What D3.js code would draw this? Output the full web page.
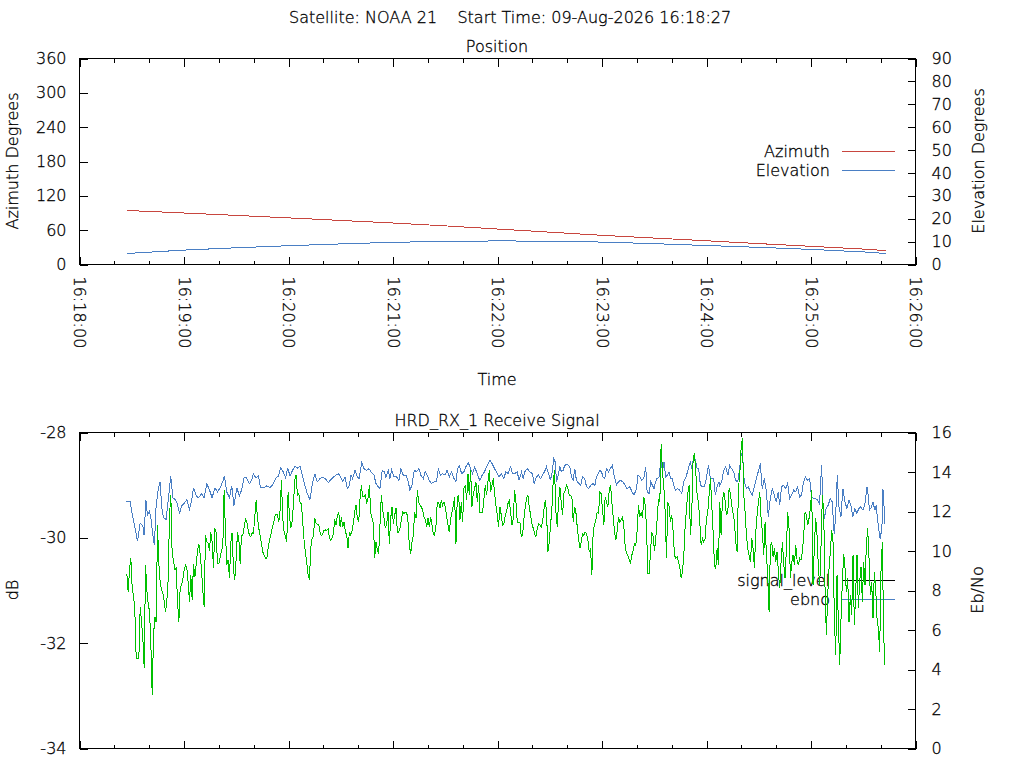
<!DOCTYPE html>
<html>
<head>
<meta charset="utf-8">
<script src="https://cdn.jsdelivr.net/npm/d3@7"></script>
<style>
  body { margin: 0; background: #fff; }
  svg { font-family: "DejaVu Sans", sans-serif; font-size: 16px; font-weight: 200; }
  text { fill: #000; stroke: #000; stroke-width: 0.3px; }
</style>
</head>
<body>
<div id="chart"></div>
<script>
// pass data, seconds counted from 16:18:00
var posSeconds   = [27, 60, 90, 120, 150, 180, 210, 240, 270, 300, 330, 360, 390, 420, 450, 463];
var azimuthDeg   = [94.5, 90.0, 85.8, 81.5, 77.0, 72.5, 67.5, 62.0, 56.5, 51.0, 46.2, 41.5, 36.5, 31.8, 27.0, 24.3];
var elevationDeg = [4.8, 6.3, 7.3, 8.2, 9.0, 9.7, 10.1, 10.3, 10.2, 9.8, 9.1, 8.3, 7.5, 6.6, 5.5, 4.8];

// receive signal level (dB), evenly sampled
var signalStart = 27.2;   // seconds after 16:18:00
var signalStep = 0.765;   // seconds between samples
var signalLevel = [
  -30.68,-31.03,-30.58,-30.39,-30.96,-31.09,-31.41,-32.29,-32.29,-32.29,
  -31.31,-31.6,-31.91,-32.48,-30.52,-31.0,-31.25,-31.4,-32.0,-32.99,
  -31.85,-31.5,-31.6,-29.76,-30.5,-30.84,-30.99,-31.05,-31.2,-31.4,
  -31.2,-30.8,-29.57,-29.19,-30.33,-30.42,-30.6,-30.58,-31.2,-31.6,
  -30.95,-30.9,-30.8,-30.6,-30.52,-30.58,-30.85,-31.22,-30.71,-31.18,
  -30.49,-30.75,-30.5,-30.25,-30.11,-30.3,-30.6,-31.0,-31.31,-29.95,
  -30.08,-30.1,-30.24,-29.89,-30.08,-30.58,-29.82,-29.89,-30.49,-30.49,
  -30.38,-30.25,-30.17,-29.1,-29.9,-30.52,-30.42,-30.77,-30.1,-29.9,
  -30.6,-30.8,-30.4,-29.9,-30.0,-30.49,-29.95,-29.95,-29.8,-29.65,
  -29.7,-29.85,-29.95,-29.98,-29.9,-29.92,-29.6,-29.29,-29.6,-29.82,
  -29.95,-30.1,-30.27,-30.33,-30.39,-30.39,-30.2,-30.05,-29.95,-29.83,
  -29.73,-29.6,-29.55,-29.55,-29.7,-29.48,-28.91,-29.63,-29.89,-29.98,
  -30.08,-29.13,-29.57,-29.82,-29.7,-29.38,-28.91,-28.81,-29.19,-29.16,
  -29.32,-29.36,-29.7,-30.05,-30.28,-30.46,-30.7,-30.8,-30.2,-30.01,
  -29.98,-29.63,-29.72,-29.75,-29.75,
  -29.89,-29.96,-29.93,-29.86,-29.85,-29.86,-29.83,-30.0,-30.05,-30.0,
  -29.92,-29.65,-29.76,-29.57,-29.51,-29.79,-29.6,-29.79,-29.7,-29.89,
  -29.95,-30.2,-29.89,-29.95,-29.86,-29.73,-29.51,-29.38,-29.63,-29.7,
  -29.25,-29.0,-29.22,-29.22,-29.19,-29.35,-29.25,-29.0,-29.51,-29.63,
  -29.73,-30.39,-30.08,-30.24,-30.3,-29.73,-29.19,-29.47,-29.63,-29.82,
  -29.73,-29.51,-30.11,-29.63,-29.41,-29.73,-29.57,-29.44,-29.89,-29.89,
  -29.82,-29.66,-29.51,-29.54,-29.51,-29.51,-29.7,-30.14,-30.3,-30.08,
  -29.95,-29.51,-29.63,-29.1,-29.32,-29.38,-29.41,-29.47,-29.6,-29.66,
  -29.79,-29.63,-29.79,-29.6,-29.76,-29.92,-29.95,-29.76,-29.32,-29.32,
  -29.44,-29.29,-29.38,-29.32,-29.41,-29.6,-29.76,-29.89,-29.63,-29.51,
  -29.38,-29.22,-30.11,-29.22,-29.19,-29.66,-29.32,-29.7,-29.06,-29.0,
  -29.29,-28.78,-29.19,-28.72,-29.41,-29.16,-29.06,-28.94,-29.32,-29.0,
  -29.51,-29.51,-29.51,-29.25,-29.0,-29.19,-28.94,-28.72,-29.13,-29.0,
  -28.87,-29.16,-29.38,-29.57,-29.79,-29.41,-29.57,-29.76,-29.73,-29.57,
  -29.51,-29.35,-29.29,-29.51,-29.76,-29.63,-29.1,-29.32,-29.7,-29.7,
  -29.7,-29.98,-29.95,-29.63,-29.41,-29.25,-29.19,-29.41,-29.57,-29.73,
  -29.82,-29.92,-29.98,-29.82,-29.73,-29.76,-29.79,-29.7,-29.47,-29.28,
  -29.51,-30.27,-30.08,-29.76,-29.44,-28.91,-28.72,-29.51,-29.79,-29.32,
  -29.03,-29.32,-29.57,-29.16,-29.1,-29.0,-29.06,-29.19,-29.19,-29.22,
  -29.7,-29.41,-29.51,-29.79,-30.01,-30.2,-30.08,-29.92,-29.95,-29.89,
  -29.92,-30.04,-30.27,-30.2,-30.71,-29.86,-29.76,-29.66,-29.51,-29.54,
  -29.13,-29.16,-29.47,-29.76,-29.22,-29.32,-29.41,-29.1,-29.0,-29.32,
  -29.6,-29.89,-30.04,-29.86,-29.6,-29.7,-29.66,-29.6,-29.79,-30.17,
  -30.3,-30.33,-30.42,-30.49,-30.33,-30.24,-30.11,-30.14,-29.86,-29.38,
  -29.6,-29.51,-29.63,-29.22,-29.38,-29.79,-30.68,-30.68,-30.27,-29.89,
  -29.98,-30.24,-30.01,-29.63,-29.28,-29.32,-28.21,-28.75,-29.03,-29.51,
  -30.39,-29.32,-29.41,-29.7,-29.57,-29.89,-30.33,-30.39,-30.36,-30.46,
  -30.55,-30.77,-30.65,-30.33,-29.79,-29.44,-29.16,-29.0,-29.95,-29.51,
  -28.49,-28.4,-28.75,-29.19,-29.32,-29.7,-30.14,-30.01,-30.08,-30.01,
  -29.63,-29.51,-29.19,-28.87,-29.38,-29.89,-30.52,-30.58,-30.2,-30.52,
  -29.32,-29.95,-29.29,-29.13,-29.29,-29.57,-29.51,-29.06,-29.16,-29.38,
  -29.54,-29.7,-30.08,-30.27,-29.06,-28.81,-28.3,-28.1,-29.19,-29.51,
  -29.95,-30.2,-30.33,-30.46,-30.01,-30.2,-30.58,-29.89,-29.57,-29.32,
  -29.13,-29.63,-29.89,-30.33,-29.7,-30.33,-30.71,-31.41,-30.14,-30.08,
  -30.36,-30.2,-30.46,-30.27,-30.65,-30.96,-30.46,-30.08,-30.49,-30.77,
  -30.2,-29.51,-29.82,-30.77,-30.46,-30.33,-30.52,-30.14,-30.42,-30.52,
  -30.39,-30.42,-30.27,-29.95,-29.51,-29.57,-29.76,-29.63,-29.44,-29.1,
  -30.9,-30.14,-29.63,-29.95,-30.58,-30.9,-30.14,-29.19,-29.51,-30.96,
  -31.85,-31.09,-30.58,-30.27,-29.86,-30.08,-31.53,-32.23,-30.71,-31.6,
  -32.42,-31.53,-30.84,-30.3,-30.58,-31.03,-30.77,-31.6,-31.09,-31.47,
  -30.33,-31.66,-31.03,-30.33,-31.34,-30.84,-30.55,-31.22,-30.46,-30.9,
  -30.14,-29.82,-30.39,-31.09,-30.84,-31.53,-30.65,-30.96,-31.53,-31.72,
  -32.16,-30.65,-30.08,-31.85,-32.42
];

// Eb/No samples: [seconds after 16:18:00, value]
var ebnoSamples = [
  [26.8,12.5],[29.1,12.5],[30.0,12.0],[32.0,11.1],[33.3,10.5],[34.8,11.4],[36.3,11.3],[37.1,10.8],[38.1,12.6],[39.0,11.8],
  [40.2,12.0],[41.1,11.6],[42.1,10.8],[43.0,10.3],[44.0,12.3],[45.3,13.2],[46.3,13.5],[47.2,12.2],[48.2,11.7],[49.7,11.6],
  [51.1,12.7],[52.4,13.8],[53.6,12.7],[54.9,12.6],[56.2,12.4],[57.4,11.9],[58.7,12.3],[60.1,12.4],[61.6,12.6],[63.1,12.1],
  [64.3,12.5],[65.4,13.2],[67.0,12.8],[68.3,12.7],[70.2,12.9],[71.5,12.7],[73.1,13.4],[74.6,13.1],[76.1,12.7],[77.8,13.2],
  [79.2,13.0],[80.7,13.2],[82.2,13.5],[83.2,13.8],[84.5,13.0],[86.1,12.7],[87.4,13.3],[88.7,12.3],[90.3,13.2],[91.8,12.8],
  [93.1,13.1],[94.5,13.7],[96.0,13.7],[97.5,13.4],[98.9,13.6],[99.8,13.9],[101.4,13.7],[102.7,13.8],[104.0,13.2],[106.0,13.2],
  [107.5,13.3],[109.4,13.2],[111.3,13.4],[112.8,13.7],[114.2,13.8],[115.5,14.2],[117.0,14.0],[118.4,13.7],[119.5,14.2],[120.9,13.8],
  [122.4,14.1],[123.7,14.3],[125.1,14.2],[126.6,14.3],[128.1,13.8],[129.5,13.3],[130.8,12.9],[132.3,12.6],[133.9,13.5],[135.2,13.9],
  [136.5,13.5],[138.1,13.67],[139.6,13.72],[141.0,13.67],[142.9,13.47],[144.8,13.67],[146.7,13.8],[148.6,13.92],[149.9,13.75],[151.1,13.53],
  [152.4,13.75],[153.8,13.16],[154.9,13.33],[155.9,13.84],[156.8,13.67],[158.2,14.09],[159.5,13.75],[160.6,13.67],[162.0,14.48],[163.3,14.17],
  [164.9,14.09],[166.2,14.17],[167.7,13.97],[169.1,13.84],[170.2,13.42],[171.5,13.25],[172.5,13.16],[173.8,14.09],[175.0,14.01],[175.9,13.75],
  [177.3,14.09],[178.2,13.67],[179.2,14.09],[180.5,13.75],[182.1,13.75],[183.4,13.58],[184.5,14.17],[185.9,13.84],[187.4,13.84],[188.8,13.5],
  [189.7,13.08],[190.9,13.33],[192.2,14.09],[193.5,14.01],[194.9,14.17],[196.0,13.84],[197.4,13.67],[198.5,14.01],[199.7,13.84],[200.8,13.58],
  [202.1,13.42],[203.5,13.5],[205.0,13.5],[206.0,14.17],[207.3,13.84],[208.5,13.92],[209.8,13.84],[211.1,14.09],[212.3,13.75],[213.6,14.01],
  [215.0,13.67],[216.1,13.5],[217.1,14.17],[218.0,14.34],[219.4,13.92],[220.7,14.01],[221.8,14.26],[223.2,14.48],[224.5,14.17],[225.7,13.92],
  [226.8,14.26],[228.0,14.01],[228.9,13.75],[229.9,13.58],[231.2,13.84],[232.5,14.01],[234.1,14.34],[235.6,14.6],[236.9,14.43],[238.3,14.17],
  [239.4,14.01],[240.8,13.75],[242.3,13.92],[243.6,13.67],[244.8,14.01],[246.1,13.92],[247.5,14.26],[248.6,13.92],[249.9,13.92],[251.3,14.01],
  [252.4,13.58],[253.8,14.01],[254.7,13.67],[255.7,14.01],[257.0,14.17],[258.6,14.01],[260.1,13.92],[261.0,13.42],[262.4,13.75],[263.5,13.84],
  [264.7,13.67],[265.8,13.84],[267.0,14.01],[268.1,14.26],[269.3,13.92],[270.4,13.58],[271.4,14.01],[272.3,14.68],[273.1,14.51],[273.9,13.5],
  [274.8,13.84],[275.8,14.26],[276.7,14.01],[277.7,14.09],[278.6,14.34],[280.0,14.38],[281.5,14.26],[282.5,13.75],[283.4,13.58],[284.4,14.17],
  [285.3,13.58],[286.7,13.42],[287.8,13.33],[288.8,13.75],[290.1,13.67],[291.1,13.25],[292.4,13.16],[293.6,13.33],[294.9,13.42],[295.9,13.33],
  [296.8,13.75],[297.8,13.92],[298.7,14.09],[299.7,14.01],[300.6,13.75],[301.6,13.67],[302.5,14.17],[303.7,14.01],[304.8,14.17],[306.0,14.34],
  [306.9,13.84],[308.3,13.33],[309.4,13.5],[310.6,13.58],[312.1,13.5],[313.2,13.33],[314.4,13.16],[315.9,13.25],[317.3,12.99],[318.4,12.83],
  [319.8,13.16],[320.7,13.84],[321.7,13.75],[322.8,13.58],[324.0,13.67],[325.1,14.26],[325.9,12.99],[327.0,12.91],[328.0,13.5],[328.9,13.33],
  [329.9,13.16],[330.7,13.5],[331.6,13.67],[332.8,13.75],[333.9,14.68],[334.7,14.01],[335.6,14.51],[336.6,13.75],[337.5,13.84],[338.5,14.01],
  [339.4,13.67],[340.4,13.67],[341.4,13.25],[342.3,13.08],[343.5,13.16],[344.6,13.08],[345.8,12.91],[346.9,13.5],[347.9,13.67],[348.8,13.92],
  [349.8,14.26],[350.7,14.51],[351.7,14.17],[352.6,14.77],[353.6,14.6],[354.6,14.17],[355.5,14.17],[356.5,13.33],[357.6,13.25],[358.8,13.25],
  [359.9,13.67],[361.1,14.34],[362.2,13.67],[363.2,13.67],[364.1,13.67],[365.1,12.83],[366.2,13.33],[367.2,13.5],[367.6,13.33],[368.7,13.5],
  [369.9,14.09],[371.0,14.26],[372.3,13.84],[373.3,14.34],[374.4,14.17],[375.6,14.01],[376.7,13.58],[377.9,13.5],[379.0,14.17],[380.0,14.94],
  [380.9,14.6],[381.7,13.5],[382.9,13.16],[384.0,13.25],[385.2,12.99],[386.3,12.83],[387.4,13.25],[388.6,13.67],[389.7,14.01],[390.9,14.43],
  [392.0,13.16],[393.2,13.67],[394.3,13.08],[395.5,11.73],[396.6,12.66],[397.8,13.16],[398.9,12.83],[400.1,12.49],[401.2,12.99],[402.0,12.32],
  [403.1,13.25],[404.3,13.33],[405.4,13.16],[406.6,13.42],[407.7,12.66],[408.9,12.83],[410.0,13.08],[411.2,12.99],[412.3,13.25],[413.5,12.74],
  [414.6,12.83],[415.7,13.5],[416.9,13.75],[418.0,13.58],[419.2,13.67],[420.3,12.74],[421.5,12.66],[422.6,12.66],[423.8,12.57],[424.9,12.4],
  [426.1,14.34],[426.8,12.49],[427.6,11.64],[428.7,12.15],[429.9,12.32],[431.0,12.66],[432.2,12.49],[433.3,10.88],[434.1,11.64],[435.1,13.84],
  [436.0,12.24],[437.2,11.73],[438.3,13.16],[439.5,12.49],[440.6,12.15],[441.8,12.57],[442.9,12.32],[444.0,11.73],[445.2,12.15],[446.3,11.9],
  [447.5,12.15],[448.6,12.24],[449.8,12.07],[450.9,12.32],[452.1,13.25],[452.8,12.83],[453.6,12.07],[454.8,12.24],[455.5,12.49],[456.7,12.07],
  [457.4,12.32],[458.6,11.31],[459.7,10.63],[460.7,11.14],[461.3,13.16],[461.8,12.49],[462.4,11.39]
];

var azTicks = [0, 60, 120, 180, 240, 300, 360];
var elTicks = [0, 10, 20, 30, 40, 50, 60, 70, 80, 90];
var dbTicks = [-34, -32, -30, -28];
var ebTicks = [0, 2, 4, 6, 8, 10, 12, 14, 16];

var mainTitle = "Satellite: NOAA 21    Start Time: 09-Aug-2026 16:18:27";

var W = 1024, H = 768;
var left = 79.5, right = 915.5;
var top1 = 58.5, bot1 = 264.5;
var top2 = 432.5, bot2 = 748.5;

var t0 = new Date(2026, 7, 9, 16, 18, 0);
function at(s) { return new Date(t0.getTime() + s * 1000); }

var svg = d3.select("#chart").append("svg")
    .attr("width", W)
    .attr("height", H);

var x = d3.scaleTime()
    .domain([t0, at(480)])
    .range([left, right]);

var yAz = d3.scaleLinear().domain([0, 360]).range([bot1, top1]);
var yEl = d3.scaleLinear().domain([0, 90]).range([bot1, top1]);
var yDb = d3.scaleLinear().domain([-34, -28]).range([bot2, top2]);
var yEb = d3.scaleLinear().domain([0, 16]).range([bot2, top2]);

// plain ascii minus, like the original
var plain = function (d) { return String(d); };

function cleanAxis(g) {
  g.attr("font-size", null).attr("font-family", null);
  g.select(".domain").remove();
  g.selectAll("line").attr("shape-rendering", "crispEdges");
}

// time ticks on both borders of a panel
function timeTicks(yTop, yBot, withLabels) {
  var major = d3.axisBottom(x).ticks(d3.timeMinute.every(1)).tickSize(-8)
      .tickFormat(withLabels ? d3.timeFormat("%H:%M:%S") : "");
  var minor = d3.axisBottom(x).ticks(d3.timeSecond.every(20)).tickSize(-4).tickFormat("");
  var gb = svg.append("g").attr("transform", "translate(0," + yBot + ")").call(major).call(cleanAxis);
  svg.append("g").attr("transform", "translate(0," + yBot + ")").call(minor).call(cleanAxis);
  svg.append("g").attr("transform", "translate(0," + yTop + ")")
    .call(d3.axisTop(x).ticks(d3.timeMinute.every(1)).tickSize(-8).tickFormat("")).call(cleanAxis);
  svg.append("g").attr("transform", "translate(0," + yTop + ")")
    .call(d3.axisTop(x).ticks(d3.timeSecond.every(20)).tickSize(-4).tickFormat("")).call(cleanAxis);
  if (withLabels) {
    gb.selectAll("text")
      .attr("transform", "rotate(90)")
      .attr("x", 12)
      .attr("y", 6)
      .attr("dy", null)
      .style("text-anchor", "start");
  }
}

function yAxes(yl, yr, lt, rt) {
  svg.append("g").attr("transform", "translate(" + left + ",0)")
    .call(d3.axisLeft(yl).tickValues(lt).tickFormat(plain).tickSize(-8).tickPadding(13)).call(cleanAxis);
  svg.append("g").attr("transform", "translate(" + right + ",0)")
    .call(d3.axisRight(yr).tickValues(rt).tickFormat(plain).tickSize(-8).tickPadding(16)).call(cleanAxis);
}

function frame(yTop, yBot) {
  svg.append("rect")
    .attr("x", left).attr("y", yTop)
    .attr("width", right - left).attr("height", yBot - yTop)
    .attr("fill", "none").attr("stroke", "#000")
    .attr("shape-rendering", "crispEdges");
}

function label(txt, xp, yp, rot, anchor) {
  svg.append("text")
    .attr("transform", "translate(" + xp + "," + yp + ")" + (rot ? " rotate(" + rot + ")" : ""))
    .style("text-anchor", anchor || "middle")
    .style("white-space", "pre")
    .text(txt);
}

function legendRow(txt, yLine, color) {
  svg.append("text").attr("x", 830).attr("y", yLine + 5.5).style("text-anchor", "end").text(txt);
  svg.append("line").attr("x1", 842).attr("x2", 895).attr("y1", yLine).attr("y2", yLine)
    .attr("stroke", color).attr("shape-rendering", "crispEdges");
}

function drawLine(data, xf, yf, color) {
  svg.append("path")
    .datum(data)
    .attr("fill", "none")
    .attr("stroke", color)
    .attr("stroke-width", 1)
    .attr("shape-rendering", "crispEdges")
    .attr("d", d3.line().x(xf).y(yf));
}

// titles
label(mainTitle, 289, 23, 0, "start");
label("Position", 497, 52);
label("HRD_RX_1 Receive Signal", 497, 426);

// position panel
frame(top1, bot1);
timeTicks(top1, bot1, true);
yAxes(yAz, yEl, azTicks, elTicks);
label("Azimuth Degrees", 18, 161, -90);
label("Elevation Degrees", 984, 161, -90);
label("Time", 497, 385);

legendRow("Azimuth", 151.5, "#c8463f");
legendRow("Elevation", 170.5, "#4a7fc4");

var pos = posSeconds.map(function (s, i) {
  return { t: at(s), az: azimuthDeg[i], el: elevationDeg[i] };
});
drawLine(pos, function (d) { return x(d.t); }, function (d) { return yAz(d.az); }, "#c8463f");
drawLine(pos, function (d) { return x(d.t); }, function (d) { return yEl(d.el); }, "#4a7fc4");

// receive signal panel
frame(top2, bot2);
timeTicks(top2, bot2, false);
yAxes(yDb, yEb, dbTicks, ebTicks);
label("dB", 18, 590, -90);
label("Eb/No", 983, 590, -90);

legendRow("signal_level", 580.5, "#000");
legendRow("ebno", 599.5, "#4a7fc4");

drawLine(ebnoSamples, function (d) { return x(at(d[0])); }, function (d) { return yEb(d[1]); }, "#4a7fc4");
drawLine(signalLevel, function (d, i) { return x(at(signalStart + i * signalStep)); }, function (d) { return yDb(d); }, "#00c000");
</script>
</body>
</html>
